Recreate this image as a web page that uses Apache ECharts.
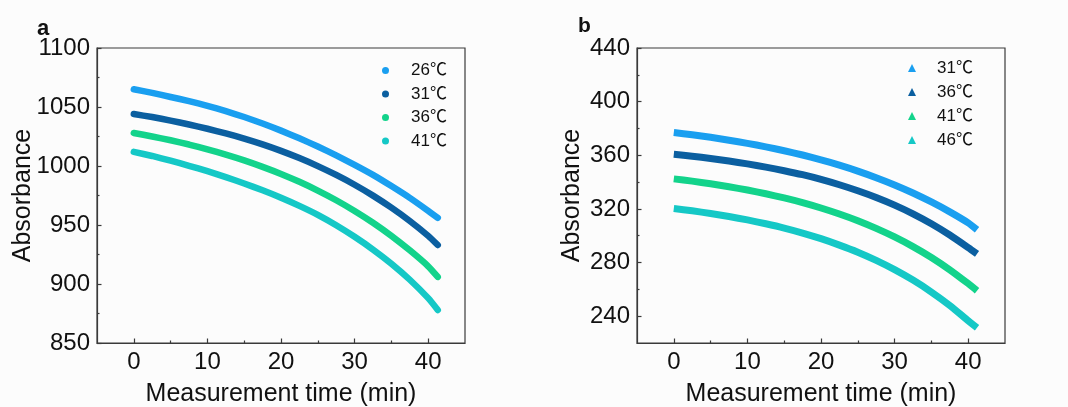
<!DOCTYPE html>
<html>
<head>
<meta charset="utf-8">
<script src="https://cdn.jsdelivr.net/npm/echarts@6/dist/echarts.min.js"></script>
<style>
  html, body { margin: 0; padding: 0; background: #fcfcfc; }
  #chart { width: 1068px; height: 407px; }
</style>
</head>
<body>
<div id="chart"></div>
<script>
// ---------- data ----------
const timesA = [0, 2.5, 5, 7.5, 10, 12.5, 15, 17.5, 20, 22.5, 25, 27.5, 30, 32.5, 35, 37.5, 40, 41.3];
const namesA = ['26℃', '31℃', '36℃', '41℃'];
const absA26 = [1065, 1062, 1058.5, 1055, 1051, 1046.5, 1041.5, 1036, 1030, 1023.5, 1016.5, 1009, 1001, 992.5, 983, 973, 962, 956];
const absA31 = [1044, 1041.5, 1038.5, 1035.2, 1031.6, 1027.6, 1023.2, 1018.3, 1012.8, 1006.7, 999.9, 992.4, 984.1, 974.9, 964.7, 953.4, 940.8, 933];
const absA36 = [1028, 1025, 1021.8, 1018.2, 1014.1, 1009.7, 1004.8, 999.3, 993.3, 986.6, 979.2, 971, 961.9, 951.9, 940.8, 928.5, 915, 906];
const absA41 = [1012, 1008.5, 1004.5, 1000.2, 995.6, 990.6, 985.2, 979.4, 973.1, 966.2, 958.6, 949.8, 940, 929.2, 917.2, 903.6, 888, 878];

const timesB = [0, 2.5, 5, 7.5, 10, 12.5, 15, 17.5, 20, 22.5, 25, 27.5, 30, 32.5, 35, 37.5, 40, 41.2];
const namesB = ['31℃', '36℃', '41℃', '46℃'];
const absB31 = [377, 375.3, 373.4, 371.2, 368.9, 366.3, 363.4, 360.2, 356.6, 352.6, 348.2, 343.3, 337.9, 331.9, 325.2, 317.8, 309.6, 304.5];
const absB36 = [360.7, 359.3, 357.6, 355.7, 353.6, 351.2, 348.5, 345.5, 342, 338, 333.5, 328.5, 322.8, 316.3, 308.9, 300.5, 291.1, 286.4];
const absB41 = [342.4, 340.7, 338.7, 336.5, 334.1, 331.3, 328.2, 324.7, 320.7, 316.2, 311.2, 305.5, 299.1, 291.9, 283.8, 274.6, 264.3, 259];
const absB46 = [320.3, 318.6, 316.6, 314.3, 311.8, 308.9, 305.7, 302, 297.8, 293, 287.7, 281.6, 274.7, 266.9, 258, 248, 236.6, 231.4];

const xMajorTicks = [0, 10, 20, 30, 40];
const xMinorTicks = [5, 15, 25, 35];
const yMajorTicksB = [240, 280, 320, 360, 400, 440];
const yMinorTicksB = [260, 300, 340, 380, 420];

// ---------- styling ----------
const colors = ['#1a9ff0', '#0b5fa0', '#13d38b', '#15c8c6'];
const FONT = 'Arial, "Liberation Sans", "Noto Sans CJK SC", "DejaVu Sans", sans-serif';
const AX = '#3a3a3a';

function pairs(t, v) { return t.map((x, i) => [x, v[i]]); }
const plain = v => String(v);

function xAxisMain(gridIndex) {
  return {
    type: 'value', gridIndex: gridIndex, min: -5, max: 45,
    name: 'Measurement time (min)', nameLocation: 'middle', nameGap: 39, nameMoveOverlap: false,
    nameTextStyle: { fontFamily: FONT, fontSize: 25, color: '#111', lineHeight: 25 },
    axisLine: { show: true, onZero: false, lineStyle: { color: AX, width: 1.2 } },
    axisTick: { show: true, inside: true, length: 4.5, customValues: xMajorTicks, lineStyle: { color: AX, width: 1.2 } },
    axisLabel: { show: true, customValues: xMajorTicks, margin: 7, fontFamily: FONT, fontSize: 24, color: '#111', lineHeight: 24, formatter: plain },
    splitLine: { show: false }
  };
}
function xAxisMinor(gridIndex) {
  return {
    type: 'value', gridIndex: gridIndex, min: -5, max: 45, position: 'bottom',
    axisLine: { show: false, onZero: false },
    axisTick: { show: true, inside: true, length: 2.5, customValues: xMinorTicks, lineStyle: { color: AX, width: 1.2 } },
    axisLabel: { show: false },
    splitLine: { show: false }
  };
}

const option = {
  backgroundColor: '#fcfcfc',
  animation: false,
  title: [
    { text: 'a', left: 37, top: 18, padding: 0, textStyle: { fontFamily: FONT, fontSize: 22, fontWeight: 'bold', color: '#111', lineHeight: 22 } },
    { text: 'b', left: 578, top: 16, padding: 0, textStyle: { fontFamily: FONT, fontSize: 21, fontWeight: 'bold', color: '#111', lineHeight: 21 } }
  ],
  grid: [
    { left: 97, right: 603, top: 48, bottom: 64, outerBoundsMode: 'none', containLabel: false, show: true, borderColor: AX, borderWidth: 1.2, backgroundColor: 'transparent' },
    { left: 637, right: 63, top: 48, bottom: 64, outerBoundsMode: 'none', containLabel: false, show: true, borderColor: AX, borderWidth: 1.2, backgroundColor: 'transparent' }
  ],
  xAxis: [xAxisMain(0), xAxisMinor(0), xAxisMain(1), xAxisMinor(1)],
  yAxis: [
    {
      type: 'value', gridIndex: 0, min: 850, max: 1100, interval: 50,
      name: 'Absorbance', nameLocation: 'middle', nameGap: 61, nameMoveOverlap: false,
      nameTextStyle: { fontFamily: FONT, fontSize: 25, color: '#111', lineHeight: 25 },
      axisLine: { show: true, onZero: false, lineStyle: { color: AX, width: 1.2 } },
      axisTick: { show: true, inside: true, length: 4.5, lineStyle: { color: AX, width: 1.2 } },
      minorTick: { show: true, splitNumber: 2, length: 2.5, lineStyle: { color: AX, width: 1.2 } },
      axisLabel: { margin: 7, fontFamily: FONT, fontSize: 24, color: '#111', formatter: plain },
      splitLine: { show: false }
    },
    {
      type: 'value', gridIndex: 1, min: 220, max: 440,
      name: 'Absorbance', nameLocation: 'middle', nameGap: 52, nameMoveOverlap: false,
      nameTextStyle: { fontFamily: FONT, fontSize: 25, color: '#111', lineHeight: 25 },
      axisLine: { show: true, onZero: false, lineStyle: { color: AX, width: 1.2 } },
      axisTick: { show: true, inside: true, length: 4.5, customValues: yMajorTicksB, lineStyle: { color: AX, width: 1.2 } },
      axisLabel: { customValues: yMajorTicksB, margin: 7, fontFamily: FONT, fontSize: 24, color: '#111', formatter: plain },
      splitLine: { show: false }
    },
    {
      type: 'value', gridIndex: 1, min: 220, max: 440, position: 'left',
      axisLine: { show: false, onZero: false },
      axisTick: { show: true, inside: true, length: 2.5, customValues: yMinorTicksB, lineStyle: { color: AX, width: 1.2 } },
      axisLabel: { show: false },
      splitLine: { show: false }
    }
  ],
  legend: [
    {
      orient: 'vertical', left: 382, top: 62, padding: 0, itemGap: 6.5,
      itemWidth: 7, itemHeight: 7, icon: 'circle',
      data: namesA.map(n => ({ name: n })),
      textStyle: { fontFamily: FONT, fontSize: 17, color: '#111', lineHeight: 17, padding: [0, 0, 0, 17] }
    },
    {
      orient: 'vertical', left: 908, top: 59.5, padding: 0, itemGap: 7,
      itemWidth: 8, itemHeight: 8, icon: 'triangle',
      data: namesB.map(n => ({ name: n + ' ' })),
      textStyle: { fontFamily: FONT, fontSize: 17, color: '#111', lineHeight: 17, padding: [0, 0, 0, 16] }
    }
  ],
  series: []
};

const seriesA = [absA26, absA31, absA36, absA41];
const seriesB = [absB31, absB36, absB41, absB46];
seriesA.forEach((v, i) => {
  option.series.push({
    name: namesA[i], type: 'line', xAxisIndex: 0, yAxisIndex: 0,
    data: pairs(timesA, v), smooth: 0.2, showSymbol: false, symbol: 'circle',
    lineStyle: { color: colors[i], width: 6.5, cap: 'round', join: 'round' },
    itemStyle: { color: colors[i] }, z: 2
  });
});
seriesB.forEach((v, i) => {
  option.series.push({
    name: namesB[i] + ' ', type: 'line', xAxisIndex: 2, yAxisIndex: 1,
    data: pairs(timesB, v), smooth: 0.2, showSymbol: false, symbol: 'triangle',
    lineStyle: { color: colors[i], width: 7, cap: 'butt', join: 'round' },
    itemStyle: { color: colors[i] }, z: 2
  });
});

const chart = echarts.init(document.getElementById('chart'), null, { renderer: 'canvas' });
chart.setOption(option);
</script>
</body>
</html>
